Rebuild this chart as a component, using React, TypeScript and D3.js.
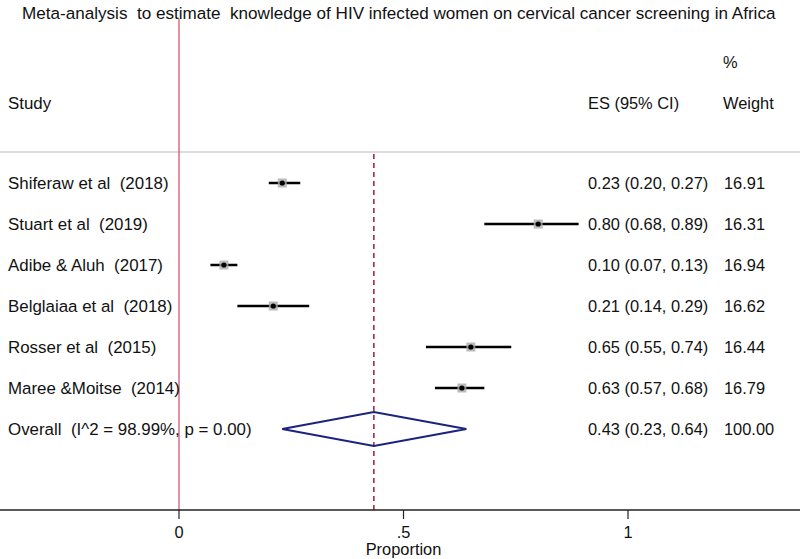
import React from "react";
import * as d3 from "d3";

const studies = ["Shiferaw et al  (2018)", "Stuart et al  (2019)", "Adibe & Aluh  (2017)", "Belglaiaa et al  (2018)", "Rosser et al  (2015)", "Maree &Moitse  (2014)"];
const es = [0.23, 0.80, 0.10, 0.21, 0.65, 0.63];
const lower = [0.20, 0.68, 0.07, 0.13, 0.55, 0.57];
const upper = [0.27, 0.89, 0.13, 0.29, 0.74, 0.68];
const esLabels = ["0.23 (0.20, 0.27)", "0.80 (0.68, 0.89)", "0.10 (0.07, 0.13)", "0.21 (0.14, 0.29)", "0.65 (0.55, 0.74)", "0.63 (0.57, 0.68)"];
const weights = ["16.91", "16.31", "16.94", "16.62", "16.44", "16.79"];
const overallLabel = "Overall  (I^2 = 98.99%, p = 0.00)";
const overallES = 0.434;
const overallLower = 0.23;
const overallUpper = 0.64;
const overallText = "0.43 (0.23, 0.64)";
const overallWeight = "100.00";
const ticks = [0, 0.5, 1];
const tickLabels = ["0", ".5", "1"];
const title = "Meta-analysis  to estimate  knowledge of HIV infected women on cervical cancer screening in Africa";

const pre = (s: string) => s.replace(/  /g, "\u00a0 ");

export default function App() {
  const W = 800, H = 559;
  const x = d3.scaleLinear().domain([0, 1]).range([179, 628]);
  const y = d3.scaleLinear().domain([0, 6]).range([183, 429]);
  const font = "'Liberation Sans', Arial, sans-serif";
  const axisY = 510;
  const fs = 16.4;
  const fsL = 16.9;
  const diamond = d3.line()([
    [x(overallLower), y(6)],
    [x(overallES), y(6) - 17],
    [x(overallUpper), y(6)],
    [x(overallES), y(6) + 17],
  ]) + "Z";
  return (
    <svg width={W} height={H} style={{ position: "absolute", left: 0, top: 0 }} fontFamily={font}>
      <rect width={W} height={H} fill="#fff" />
      <text x={22} y={19} fontSize={17.1} fill="#111">{pre(title)}</text>
      <line x1={0} x2={W} y1={152} y2={152} stroke="#bbb" strokeWidth={1} />
      <line x1={x(0)} x2={x(0)} y1={19} y2={axisY} stroke="#c8274a" strokeWidth={1} />
      <line x1={x(overallES)} x2={x(overallES)} y1={154} y2={axisY} stroke="#a01c3a" strokeWidth={1.5} strokeDasharray="5,4" />
      <text x={8} y={109} fontSize={fsL} fill="#111">Study</text>
      <text x={588} y={109} fontSize={fs} fill="#111">ES (95% CI)</text>
      <text x={723} y={68} fontSize={fs} fill="#111">%</text>
      <text x={723} y={109} fontSize={fs} fill="#111">Weight</text>
      {studies.map((s, i) => (
        <g key={s}>
          <text x={8} y={y(i) + 6} fontSize={fsL} fill="#111">{pre(s)}</text>
          <line x1={x(lower[i])} x2={x(upper[i])} y1={y(i)} y2={y(i)} stroke="#000" strokeWidth={2.5} />
          <rect x={x(es[i]) - 4.5} y={y(i) - 4.5} width={9} height={9} fill="#aaa" opacity={0.8} />
          <circle cx={x(es[i])} cy={y(i)} r={2.6} fill="#000" />
          <text x={588} y={y(i) + 6} fontSize={fs} fill="#111">{esLabels[i]}</text>
          <text x={724} y={y(i) + 6} fontSize={fs} fill="#111">{weights[i]}</text>
        </g>
      ))}
      <text x={8} y={y(6) + 6} fontSize={fsL} fill="#111">{pre(overallLabel)}</text>
      <path d={diamond} fill="none" stroke="#1a237e" strokeWidth={2} />
      <text x={588} y={y(6) + 6} fontSize={fs} fill="#111">{overallText}</text>
      <text x={724} y={y(6) + 6} fontSize={fs} fill="#111">{overallWeight}</text>
      <line x1={0} x2={W} y1={axisY} y2={axisY} stroke="#222" strokeWidth={1.5} />
      {ticks.map((t, i) => (
        <g key={t}>
          <line x1={x(t)} x2={x(t)} y1={axisY} y2={axisY + 9} stroke="#222" strokeWidth={1.2} />
          <text x={x(t)} y={axisY + 28} fontSize={fs} textAnchor="middle" fill="#111">{tickLabels[i]}</text>
        </g>
      ))}
      <text x={x(0.5)} y={axisY + 45} fontSize={fs} textAnchor="middle" fill="#111">Proportion</text>
    </svg>
  );
}
